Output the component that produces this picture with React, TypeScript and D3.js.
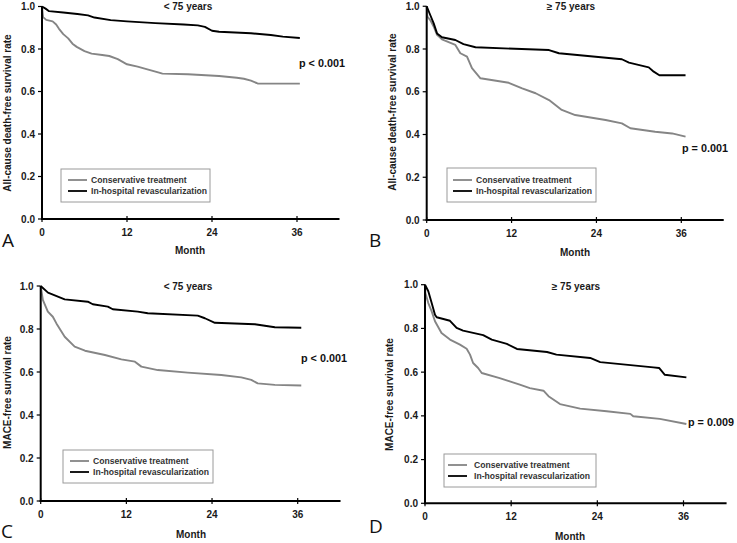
import React from "react";
import * as d3 from "d3";

// ---------- data ----------
const xTicks = [0, 12, 24, 36];
const yTicks = [0, 0.2, 0.4, 0.6, 0.8, 1.0];
const seriesNames = ["Conservative treatment", "In-hospital revascularization"];

const aConservative: [number, number][] = [
  [0, 1.0], [0.15, 0.95], [0.6, 0.937], [1.5, 0.93], [2.0, 0.915], [2.4, 0.895], [3.0, 0.87],
  [3.7, 0.85], [4.3, 0.825], [4.9, 0.81], [6.0, 0.79], [7.0, 0.778], [8.5, 0.772], [9.5, 0.767],
  [10.7, 0.752], [12.0, 0.728], [13.5, 0.717], [14.5, 0.708], [16.4, 0.69], [17, 0.684],
  [20.6, 0.681], [25, 0.673], [27.5, 0.665], [28.5, 0.66], [29.5, 0.651], [30.3, 0.64],
  [30.5, 0.637], [36.4, 0.637],
];
const aRevasc: [number, number][] = [
  [0, 1.0], [0.5, 0.99], [1, 0.978], [3, 0.972], [5, 0.965], [6.5, 0.958], [7.4, 0.948],
  [9.7, 0.936], [12, 0.93], [16, 0.922], [20, 0.915], [22, 0.911], [23, 0.904], [24, 0.886],
  [25, 0.881], [29.5, 0.874], [32.3, 0.866], [34, 0.858], [36.4, 0.852],
];

const bConservative: [number, number][] = [
  [0, 1.0], [0.1, 0.951], [0.5, 0.935], [1, 0.904], [1.46, 0.866], [2.16, 0.845], [4.05, 0.819],
  [4.76, 0.78], [5.7, 0.764], [6.4, 0.71], [7.6, 0.663], [11.6, 0.642], [13.5, 0.616],
  [15.4, 0.593], [17.3, 0.561], [19.1, 0.515], [21, 0.491], [25.3, 0.468], [27.6, 0.452],
  [28.8, 0.429], [32.3, 0.413], [34.7, 0.405], [36.6, 0.39],
];
const bRevasc: [number, number][] = [
  [0, 1.0], [0.5, 0.959], [0.99, 0.92], [1.46, 0.873], [2.16, 0.855], [4.05, 0.842], [5.2, 0.823],
  [6.9, 0.808], [17.3, 0.795], [18.7, 0.78], [27.6, 0.752], [28.6, 0.736], [31.4, 0.714],
  [32.1, 0.694], [32.9, 0.677], [36.6, 0.677],
];

const cConservative: [number, number][] = [
  [0, 1.0], [0.3, 0.935], [1.0, 0.881], [1.7, 0.857], [2.2, 0.826], [3.36, 0.764], [4.76, 0.718],
  [6.2, 0.699], [9, 0.679], [11.3, 0.659], [13.2, 0.648], [14.1, 0.625], [16.4, 0.609],
  [20.6, 0.597], [25.3, 0.586], [28.1, 0.575], [29.5, 0.563], [30.4, 0.547], [32.8, 0.54],
  [36.5, 0.537],
];
const cRevasc: [number, number][] = [
  [0, 1.0], [1.02, 0.969], [3.36, 0.938], [6.6, 0.927], [7.3, 0.915], [9.4, 0.904], [10.1, 0.892],
  [13.6, 0.881], [15, 0.873], [22, 0.862], [23, 0.85], [24.4, 0.829], [30, 0.822], [32.8, 0.808],
  [36.5, 0.806],
];

const dConservative: [number, number][] = [
  [0, 1.0], [0.05, 0.962], [0.46, 0.916], [0.93, 0.878], [1.39, 0.833], [2.3, 0.779], [3.48, 0.749],
  [4.87, 0.726], [5.8, 0.707], [6.27, 0.68], [6.7, 0.642], [7.4, 0.619], [7.9, 0.596],
  [10.4, 0.573], [11.8, 0.558], [13.2, 0.543], [14.6, 0.527], [16.5, 0.515], [17.2, 0.49],
  [18.8, 0.454], [21.6, 0.433], [25.3, 0.421], [28.6, 0.409], [29, 0.398], [32.7, 0.386],
  [36.4, 0.363],
];
const dRevasc: [number, number][] = [
  [0, 1.0], [0.46, 0.97], [0.93, 0.916], [1.39, 0.863], [1.63, 0.851], [3.48, 0.835], [4.4, 0.802],
  [5.3, 0.79], [8.1, 0.769], [9.3, 0.749], [11.4, 0.729], [12.8, 0.706], [17, 0.692],
  [18.3, 0.68], [23, 0.665], [24.4, 0.646], [31.8, 0.622], [32.6, 0.619], [33.4, 0.588],
  [36.4, 0.576],
];

// ---------- layout ----------
type Panel = {
  letter: string; title: string; ylabel: string; pval: string;
  cons: [number, number][]; rev: [number, number][];
  x0: number; x36: number; yTop: number; yBottom: number;
  titleX: number; titleY: number; ylabX: number; ylabY: number;
  monthX: number; monthY: number; letterX: number; letterY: number;
  pX: number; pY: number; leg: { x: number; y: number; w: number; h: number; lx: number; tx: number; l1: number; l2: number };
};

const panels: Panel[] = [
  {
    letter: "A", title: "< 75 years", ylabel: "All-cause death-free survival rate", pval: "p < 0.001",
    cons: aConservative, rev: aRevasc,
    x0: 42, x36: 297, yTop: 6.5, yBottom: 219,
    titleX: 188, titleY: 9.5, ylabX: 11, ylabY: 113, monthX: 190, monthY: 254,
    letterX: 2, letterY: 247, pX: 299, pY: 67,
    leg: { x: 61, y: 169, w: 149, h: 33, lx: 68, tx: 91, l1: 180, l2: 191 },
  },
  {
    letter: "B", title: "≥ 75 years", ylabel: "All-cause death-free survival rate", pval: "p = 0.001",
    cons: bConservative, rev: bRevasc,
    x0: 426.7, x36: 681.3, yTop: 6.25, yBottom: 220,
    titleX: 571, titleY: 9.5, ylabX: 396, ylabY: 112, monthX: 575, monthY: 256,
    letterX: 369, letterY: 247, pX: 682, pY: 152,
    leg: { x: 447, y: 168, w: 149, h: 34, lx: 453, tx: 476, l1: 180, l2: 191 },
  },
  {
    letter: "C", title: "< 75 years", ylabel: "MACE-free survival rate", pval: "p < 0.001",
    cons: cConservative, rev: cRevasc,
    x0: 40.7, x36: 297.7, yTop: 286, yBottom: 501,
    titleX: 188, titleY: 289.5, ylabX: 11, ylabY: 392.5, monthX: 191, monthY: 538,
    letterX: 1, letterY: 538, pX: 301, pY: 362,
    leg: { x: 63, y: 450, w: 150, h: 33, lx: 70, tx: 93, l1: 461, l2: 472 },
  },
  {
    letter: "D", title: "≥ 75 years", ylabel: "MACE-free survival rate", pval: "p = 0.009",
    cons: dConservative, rev: dRevasc,
    x0: 425, x36: 683.5, yTop: 284.7, yBottom: 503.3,
    titleX: 576, titleY: 289.5, ylabX: 393, ylabY: 394.5, monthX: 570, monthY: 540,
    letterX: 369, letterY: 533, pX: 688, pY: 426,
    leg: { x: 444, y: 454, w: 152, h: 33, lx: 448, tx: 474, l1: 465, l2: 476 },
  },
];

const FONT = "'Liberation Sans', Arial, Helvetica, sans-serif";
const GRAY = "#858585";

function KMPanel({ p }: { p: Panel }) {
  const x = d3.scaleLinear().domain([0, 36]).range([p.x0, p.x36]);
  const y = d3.scaleLinear().domain([0, 1]).range([p.yBottom, p.yTop]);
  const line = d3.line<[number, number]>().x((d) => x(d[0])).y((d) => y(d[1])).curve(d3.curveLinear);
  const xEnd = x(42);
  return (
    <g fontFamily={FONT}>
      {/* curves */}
      <path d={line(p.cons) || ""} fill="none" stroke={GRAY} strokeWidth={1.9} strokeLinejoin="round" />
      <path d={line(p.rev) || ""} fill="none" stroke="#000" strokeWidth={1.9} strokeLinejoin="round" />
      {/* axes */}
      <line x1={x(0)} x2={x(0)} y1={y(1)} y2={y(0) + 1} stroke="#000" strokeWidth={2} />
      <line x1={x(0) - 1} x2={xEnd} y1={y(0)} y2={y(0)} stroke="#000" strokeWidth={2} />
      {yTicks.map((t) => (
        <g key={"y" + t}>
          <line x1={x(0) - 4} x2={x(0)} y1={y(t)} y2={y(t)} stroke="#000" strokeWidth={1.2} />
          <text x={x(0) - 7} y={y(t) + 3.6} textAnchor="end" fontSize={10} fontWeight="bold" fill="#1a1a1a">
            {d3.format(".1f")(t)}
          </text>
        </g>
      ))}
      {xTicks.map((t) => (
        <g key={"x" + t}>
          <line x1={x(t)} x2={x(t)} y1={y(0) - 3} y2={y(0) + 3} stroke="#000" strokeWidth={1.2} />
          <text x={x(t)} y={y(0) + 17} textAnchor="middle" fontSize={10} fontWeight="bold" fill="#1a1a1a">
            {t}
          </text>
        </g>
      ))}
      {/* labels */}
      <text x={p.titleX} y={p.titleY} textAnchor="middle" fontSize={10} fontWeight="bold" fill="#1a1a1a">
        {p.title}
      </text>
      <text
        transform={`translate(${p.ylabX},${p.ylabY}) rotate(-90)`}
        textAnchor="middle" fontSize={10} fontWeight="bold" fill="#1a1a1a"
      >
        {p.ylabel}
      </text>
      <text x={p.monthX} y={p.monthY} textAnchor="middle" fontSize={10} fontWeight="bold" fill="#1a1a1a">
        Month
      </text>
      <text x={p.pX} y={p.pY} fontSize={10.8} fontWeight="bold" fill="#111">
        {p.pval}
      </text>
      <text x={p.letterX} y={p.letterY} fontSize={19} fill="#111" fontFamily="'Open Sans', 'Liberation Sans', sans-serif">
        {p.letter}
      </text>
      {/* legend */}
      <rect x={p.leg.x} y={p.leg.y} width={p.leg.w} height={p.leg.h} fill="#fff" stroke="#9a9a9a" strokeWidth={1} />
      <line x1={p.leg.lx} x2={p.leg.lx + 19} y1={p.leg.l1} y2={p.leg.l1} stroke={GRAY} strokeWidth={1.8} />
      <line x1={p.leg.lx} x2={p.leg.lx + 19} y1={p.leg.l2} y2={p.leg.l2} stroke="#000" strokeWidth={1.8} />
      <text x={p.leg.tx} y={p.leg.l1 + 3.2} fontSize={8.6} fontWeight="bold" fill="#333">
        {seriesNames[0]}
      </text>
      <text x={p.leg.tx} y={p.leg.l2 + 3.2} fontSize={8.6} fontWeight="bold" fill="#333">
        {seriesNames[1]}
      </text>
    </g>
  );
}

export default function App() {
  return (
    <svg
      width={737}
      height={543}
      viewBox="0 0 737 543"
      style={{ position: "absolute", left: 0, top: 0, background: "#fff" }}
    >
      <rect x={0} y={0} width={737} height={543} fill="#fff" />
      {panels.map((p) => (
        <KMPanel key={p.letter} p={p} />
      ))}
    </svg>
  );
}
